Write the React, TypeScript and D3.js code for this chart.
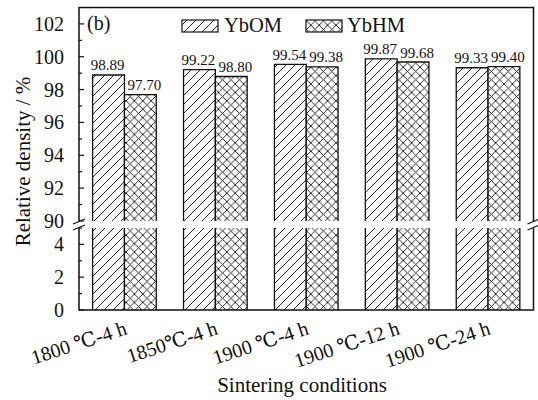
import React from "react";
import * as d3 from "d3";

// Sintering conditions and relative densities (%)
const categories = ["1800 ℃-4 h", "1850℃-4 h", "1900 ℃-4 h", "1900 ℃-12 h", "1900 ℃-24 h"];
const seriesNames = ["YbOM", "YbHM"];
const ybomValues = [98.89, 99.22, 99.54, 99.87, 99.33];
const ybhmValues = [97.7, 98.8, 99.38, 99.68, 99.4];
const upperTicks = [90, 92, 94, 96, 98, 100, 102];
const upperMinorTicks = [91, 93, 95, 97, 99, 101];
const lowerTicks = [0, 2, 4];
const lowerMinorTicks = [1, 3, 5];

const W = 538;
const H = 400;
const left = 79;
const right = 533.5;
const top = 7.5;
const bottom = 310;
const breakTop = 221; // bottom of the upper segment (value 90)
const breakBottom = 228; // top of the lower segment (value 5)

const FONT = '"Liberation Serif", "DejaVu Serif", "Noto Sans CJK SC", serif';
const INK = "#111";

export default function App() {
  const yUpper = d3.scaleLinear().domain([90, 103]).range([breakTop, top]);
  const yLower = d3.scaleLinear().domain([0, 5]).range([bottom, breakBottom]);

  const x = d3
    .scaleBand<string>()
    .domain(categories)
    .range([left, right])
    .paddingInner(0.3)
    .paddingOuter(0.15);
  const xs = d3.scaleBand<string>().domain(seriesNames).range([0, x.bandwidth()]);

  const series = [
    { name: "YbOM", values: ybomValues, fill: "url(#hatch)", dx: -1 },
    { name: "YbHM", values: ybhmValues, fill: "url(#cross)", dx: 4 },
  ];

  const breakMark = (cx: number, cy: number, key: string) => (
    <line key={key} x1={cx - 6} y1={cy + 2.5} x2={cx + 6} y2={cy - 2.5} stroke={INK} strokeWidth={1.2} />
  );

  return (
    <svg
      width={W}
      height={H}
      style={{ position: "absolute", left: 0, top: 0, background: "#fff", fontFamily: FONT }}
    >
      <defs>
        <pattern id="hatch" patternUnits="userSpaceOnUse" width={9} height={9}>
          <rect width={9} height={9} fill="#fff" />
          <path d="M-1,10 L10,-1 M-2,2 L2,-2 M7,11 L11,7" stroke={INK} strokeWidth={0.9} />
        </pattern>
        <pattern id="cross" patternUnits="userSpaceOnUse" width={8.4} height={8.4}>
          <rect width={8.4} height={8.4} fill="#fff" />
          <path
            d="M-1,9.4 L9.4,-1 M-1,-1 L9.4,9.4 M-2,2 L2,-2 M6.4,10.4 L10.4,6.4 M6.4,-2 L10.4,2 M-2,6.4 L2,10.4"
            stroke={INK}
            strokeWidth={0.9}
          />
        </pattern>
      </defs>

      {/* bars, split across the axis break */}
      {series.map((s) =>
        categories.map((c, i) => {
          const bx = (x(c) ?? 0) + (xs(s.name) ?? 0);
          const bw = xs.bandwidth();
          const yt = yUpper(s.values[i]);
          return (
            <g key={s.name + c}>
              <rect x={bx} y={yt} width={bw} height={breakTop - yt} fill={s.fill} />
              <rect x={bx} y={breakBottom} width={bw} height={bottom - breakBottom} fill={s.fill} />
              <path
                d={`M${bx},${breakTop} V${yt} H${bx + bw} V${breakTop}`}
                fill="none"
                stroke={INK}
                strokeWidth={1.3}
              />
              <path
                d={`M${bx},${breakBottom} V${bottom} M${bx + bw},${breakBottom} V${bottom}`}
                fill="none"
                stroke={INK}
                strokeWidth={1.3}
              />
              <text
                x={bx + bw / 2 + s.dx}
                y={yt - 4.5}
                textAnchor="middle"
                fontSize={15}
                fill={INK}
              >
                {s.values[i].toFixed(2)}
              </text>
            </g>
          );
        })
      )}

      {/* frame */}
      <g stroke={INK} strokeWidth={1.5} fill="none">
        <path d={`M${left},${breakTop} V${top} H${right} V${breakTop}`} />
        <path d={`M${left},${breakBottom} V${bottom} H${right} V${breakBottom}`} />
      </g>
      {breakMark(left, breakTop + 0.5, "bl1")}
      {breakMark(left, breakBottom - 0.5, "bl2")}
      {breakMark(right, breakTop + 0.5, "br1")}
      {breakMark(right, breakBottom - 0.5, "br2")}

      {/* left axis ticks and labels */}
      <g stroke={INK} strokeWidth={1.2}>
        {upperTicks.map((t) => (
          <line key={"ut" + t} x1={left} x2={left + 5} y1={yUpper(t)} y2={yUpper(t)} />
        ))}
        {upperMinorTicks.map((t) => (
          <line key={"um" + t} x1={left} x2={left + 3} y1={yUpper(t)} y2={yUpper(t)} />
        ))}
        {lowerTicks.map((t) => (
          <line key={"lt" + t} x1={left} x2={left + 5} y1={yLower(t)} y2={yLower(t)} />
        ))}
        {lowerMinorTicks.map((t) => (
          <line key={"lm" + t} x1={left} x2={left + 3} y1={yLower(t)} y2={yLower(t)} />
        ))}
      </g>
      <g fontSize={20} fill={INK} textAnchor="end">
        {upperTicks.map((t) => (
          <text key={"ul" + t} x={64} y={yUpper(t)} dy="0.35em">
            {t}
          </text>
        ))}
        {lowerTicks.map((t) => (
          <text key={"ll" + t} x={64} y={yLower(t)} dy="0.35em">
            {t}
          </text>
        ))}
      </g>

      {/* category labels */}
      <g fontSize={20} fill={INK} textAnchor="end">
        {categories.map((c) => (
          <text
            key={"xl" + c}
            transform={`translate(${(x(c) ?? 0) + x.bandwidth() / 2 + 3.5},334) rotate(-18)`}
          >
            {c}
          </text>
        ))}
      </g>

      {/* axis titles */}
      <text x={302} y={392} textAnchor="middle" fontSize={21} fill={INK}>
        Sintering conditions
      </text>
      <text transform="translate(29.5,161.5) rotate(-90)" textAnchor="middle" fontSize={21} fill={INK}>
        Relative density / %
      </text>

      {/* panel tag */}
      <text x={87} y={30} fontSize={20} fill={INK}>
        (b)
      </text>

      {/* legend */}
      <g>
        <rect x={182} y={20} width={36} height={12} fill="url(#hatch)" stroke={INK} strokeWidth={1.2} />
        <text x={224} y={32} fontSize={20.5} fill={INK}>
          YbOM
        </text>
        <rect x={306} y={20} width={36} height={12} fill="url(#cross)" stroke={INK} strokeWidth={1.2} />
        <text x={347} y={32} fontSize={20.5} fill={INK}>
          YbHM
        </text>
      </g>
    </svg>
  );
}
